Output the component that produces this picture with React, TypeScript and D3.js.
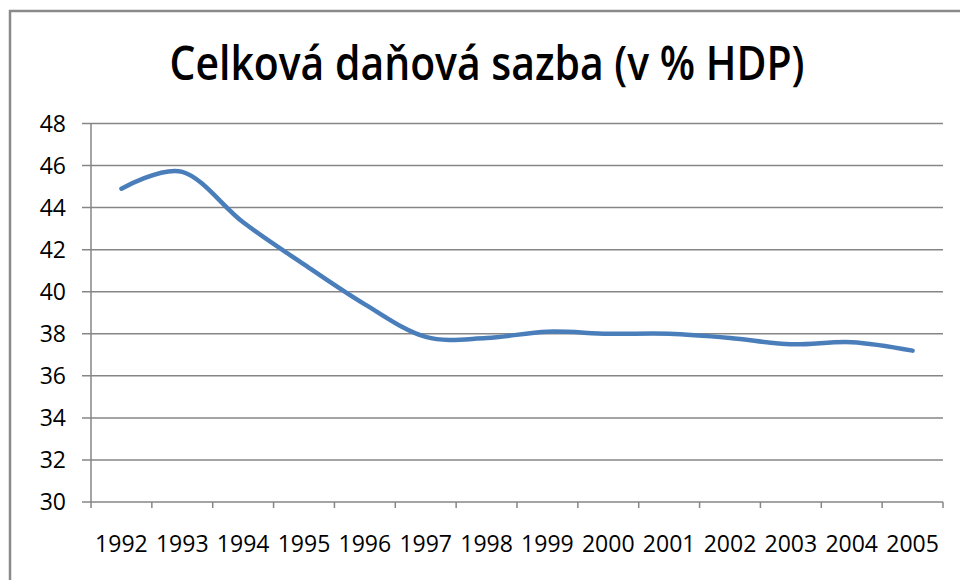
import { useEffect, useRef } from 'react';
import * as d3 from 'd3';

const years = ['1992', '1993', '1994', '1995', '1996', '1997', '1998', '1999', '2000', '2001', '2002', '2003', '2004', '2005'];
const taxRate = [44.9, 45.7, 43.3, 41.3, 39.4, 37.85, 37.8, 38.1, 38.0, 38.0, 37.8, 37.5, 37.6, 37.2];
const yTicks = [30, 32, 34, 36, 38, 40, 42, 44, 46, 48];

const title = 'Celková daňová sazba (v % HDP)';

export default function App() {
  const svgRef = useRef<SVGSVGElement>(null);

  useEffect(() => {
    if (!svgRef.current) return;
    const svg = d3.select(svgRef.current);
    svg.selectAll('*').remove();

    const left = 91;
    const right = 943;
    const top = 123.5;
    const bottom = 502;
    const grey = '#868686';
    const font = '"Open Sans", sans-serif';

    // chart frame, running off the page at right and bottom
    svg.append('rect')
        .attr('x', 10)
        .attr('y', 11)
        .attr('width', 1000)
        .attr('height', 700)
        .attr('fill', 'white')
        .attr('stroke', '#8a8a8a')
        .attr('stroke-width', 2.5);

    svg.append('text')
        .attr('x', 487)
        .attr('y', 80)
        .attr('text-anchor', 'middle')
        .attr('font-family', font)
        .attr('font-weight', 600)
        .attr('font-size', 47)
        .attr('textLength', 635)
        .attr('lengthAdjust', 'spacingAndGlyphs')
        .attr('fill', '#000')
        .text(title);

    const x = d3.scaleBand<string>()
        .domain(years)
        .range([left, right])
        .padding(0);

    const y = d3.scaleLinear()
        .domain([30, 48])
        .range([bottom, top]);

    // horizontal gridlines + y ticks
    yTicks.forEach(t => {
      svg.append('line')
          .attr('x1', left - 9)
          .attr('x2', right)
          .attr('y1', y(t))
          .attr('y2', y(t))
          .attr('stroke', grey)
          .attr('stroke-width', 1.5);

      svg.append('text')
          .attr('x', 66)
          .attr('y', y(t))
          .attr('dy', '0.36em')
          .attr('text-anchor', 'end')
          .attr('font-family', font)
          .attr('font-size', 23)
          .attr('fill', '#000')
          .text(t);
    });

    // y axis line
    svg.append('line')
        .attr('x1', left)
        .attr('x2', left)
        .attr('y1', top)
        .attr('y2', bottom)
        .attr('stroke', grey)
        .attr('stroke-width', 1.5);

    // x ticks at category boundaries
    const bounds = years.map(yr => x(yr)!).concat([right]);
    bounds.forEach(b => {
      svg.append('line')
          .attr('x1', b)
          .attr('x2', b)
          .attr('y1', bottom)
          .attr('y2', bottom + 6)
          .attr('stroke', grey)
          .attr('stroke-width', 1.5);
    });

    years.forEach(yr => {
      svg.append('text')
          .attr('x', x(yr)! + x.bandwidth() / 2)
          .attr('y', 552)
          .attr('text-anchor', 'middle')
          .attr('font-family', font)
          .attr('font-size', 23)
          .attr('fill', '#000')
          .text(yr);
    });

    const line = d3.line<number>()
        .x((_, i) => x(years[i])! + x.bandwidth() / 2)
        .y(d => y(d))
        .curve(d3.curveCatmullRom.alpha(0));

    svg.append('path')
        .datum(taxRate)
        .attr('fill', 'none')
        .attr('stroke', '#4a7ebb')
        .attr('stroke-width', 4.5)
        .attr('stroke-linecap', 'round')
        .attr('d', line);
  }, []);

  return (
      <svg
          ref={svgRef}
          width={960}
          height={580}
          style={{ position: 'absolute', left: 0, top: 0, background: 'white' }}
      />
  );
}
